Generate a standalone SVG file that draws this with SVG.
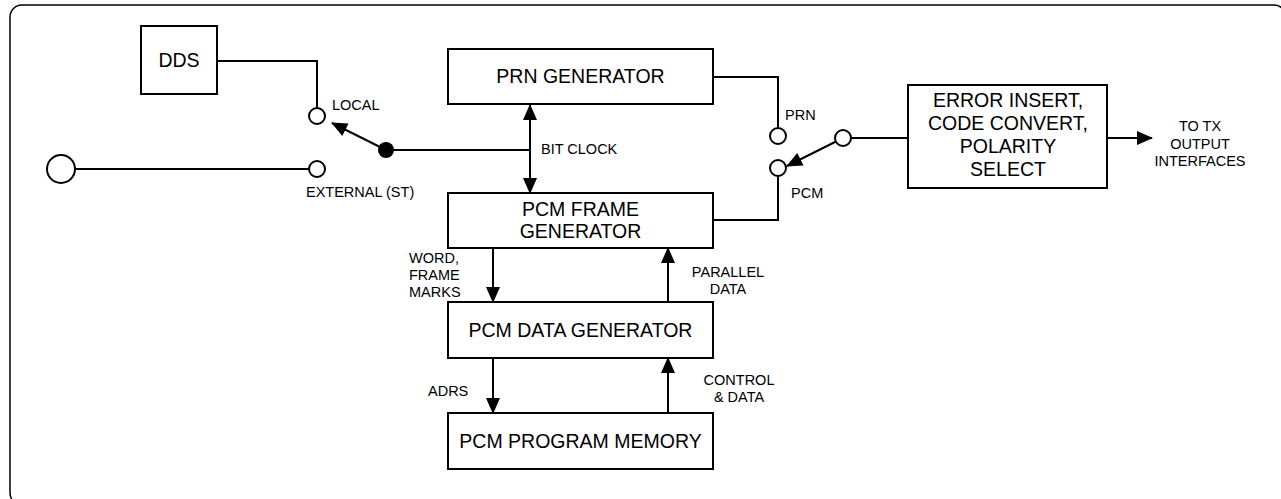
<svg xmlns="http://www.w3.org/2000/svg" width="1281" height="499" viewBox="0 0 1281 499">
<style>
.box{fill:#fff;stroke:#000;stroke-width:2}
.ln{fill:none;stroke:#000;stroke-width:2}
.oc{fill:#fff;stroke:#000;stroke-width:2}
.big{font-family:"Liberation Sans",Arial,sans-serif;font-size:19.5px;fill:#000;text-anchor:middle}
.sm{font-family:"Liberation Sans",Arial,sans-serif;font-size:14.5px;fill:#000}
.c{text-anchor:middle}
</style>
<defs>
<marker id="ah" markerWidth="16" markerHeight="14" refX="15" refY="7" orient="auto" markerUnits="userSpaceOnUse">
<path d="M0,0 L16,7 L0,14 Z" fill="#000"/>
</marker>
</defs>
<rect x="10" y="5" width="1276" height="500" rx="12" fill="none" stroke="#000" stroke-width="1.5"/>
<g id="connectors">
<polyline class="ln" points="217,61 317,61 317,108"/>
<line class="ln" x1="75" y1="169" x2="309" y2="169"/>
<line class="ln" x1="386" y1="150" x2="530" y2="150"/>
<line class="ln" x1="386" y1="150" x2="332" y2="123" marker-end="url(#ah)"/>
<line class="ln" x1="530" y1="150" x2="530" y2="105" marker-end="url(#ah)"/>
<line class="ln" x1="530" y1="150" x2="530" y2="193" marker-end="url(#ah)"/>
<polyline class="ln" points="713,77 778,77 778,128"/>
<polyline class="ln" points="713,220 778,220 778,176"/>
<line class="ln" x1="851" y1="138" x2="908" y2="138"/>
<line class="ln" x1="837" y1="141" x2="787" y2="166" marker-end="url(#ah)"/>
<line class="ln" x1="1107" y1="138" x2="1152" y2="138" marker-end="url(#ah)"/>
<line class="ln" x1="493" y1="248" x2="493" y2="302" marker-end="url(#ah)"/>
<line class="ln" x1="668" y1="302" x2="668" y2="248" marker-end="url(#ah)"/>
<line class="ln" x1="493" y1="358" x2="493" y2="413" marker-end="url(#ah)"/>
<line class="ln" x1="668" y1="413" x2="668" y2="358" marker-end="url(#ah)"/>
</g>
<g id="dds">
<rect class="box" x="141" y="26" width="76" height="68"/>
<text class="big" x="179" y="67">DDS</text>
</g>
<g id="ext-input">
<circle class="oc" cx="61" cy="169" r="14"/>
</g>
<g id="clock-switch">
<circle class="oc" cx="317" cy="116" r="8"/>
<circle class="oc" cx="317" cy="169" r="8"/>
<circle cx="386" cy="150" r="8" fill="#000"/>
<text class="sm" x="332" y="110">LOCAL</text>
<text class="sm" x="306" y="197">EXTERNAL (ST)</text>
</g>
<g id="prn-gen">
<rect class="box" x="448" y="49" width="265" height="55"/>
<text class="big" x="580.5" y="83">PRN GENERATOR</text>
</g>
<text class="sm" x="541" y="154">BIT CLOCK</text>
<g id="frame-gen">
<rect class="box" x="448" y="193" width="265" height="55"/>
<text class="big" x="580.5" y="216">PCM FRAME</text>
<text class="big" x="580.5" y="238">GENERATOR</text>
</g>
<g id="data-switch">
<circle class="oc" cx="778" cy="136" r="8"/>
<circle class="oc" cx="778" cy="168" r="8"/>
<circle class="oc" cx="843" cy="138" r="8"/>
<text class="sm" x="785" y="120">PRN</text>
<text class="sm" x="791" y="198">PCM</text>
</g>
<g id="error-insert">
<rect class="box" x="908" y="85" width="199" height="103"/>
<text class="big" x="1008" y="107">ERROR INSERT,</text>
<text class="big" x="1008" y="130">CODE CONVERT,</text>
<text class="big" x="1008" y="153">POLARITY</text>
<text class="big" x="1008" y="176">SELECT</text>
</g>
<g id="tx-out">
<text class="sm c" x="1200" y="131">TO TX</text>
<text class="sm c" x="1200" y="148.5">OUTPUT</text>
<text class="sm c" x="1200" y="166">INTERFACES</text>
</g>
<g id="data-gen">
<rect class="box" x="448" y="302" width="265" height="56"/>
<text class="big" x="580.5" y="337">PCM DATA GENERATOR</text>
</g>
<g id="prog-mem">
<rect class="box" x="448" y="413" width="265" height="56"/>
<text class="big" x="580.5" y="448">PCM PROGRAM MEMORY</text>
</g>
<g id="labels">
<text class="sm" x="409" y="263">WORD,</text>
<text class="sm" x="409" y="280">FRAME</text>
<text class="sm" x="409" y="297">MARKS</text>
<text class="sm c" x="728" y="277">PARALLEL</text>
<text class="sm c" x="728" y="294">DATA</text>
<text class="sm" x="428" y="396">ADRS</text>
<text class="sm c" x="739" y="385">CONTROL</text>
<text class="sm c" x="739" y="402">&amp; DATA</text>
</g>
</svg>
